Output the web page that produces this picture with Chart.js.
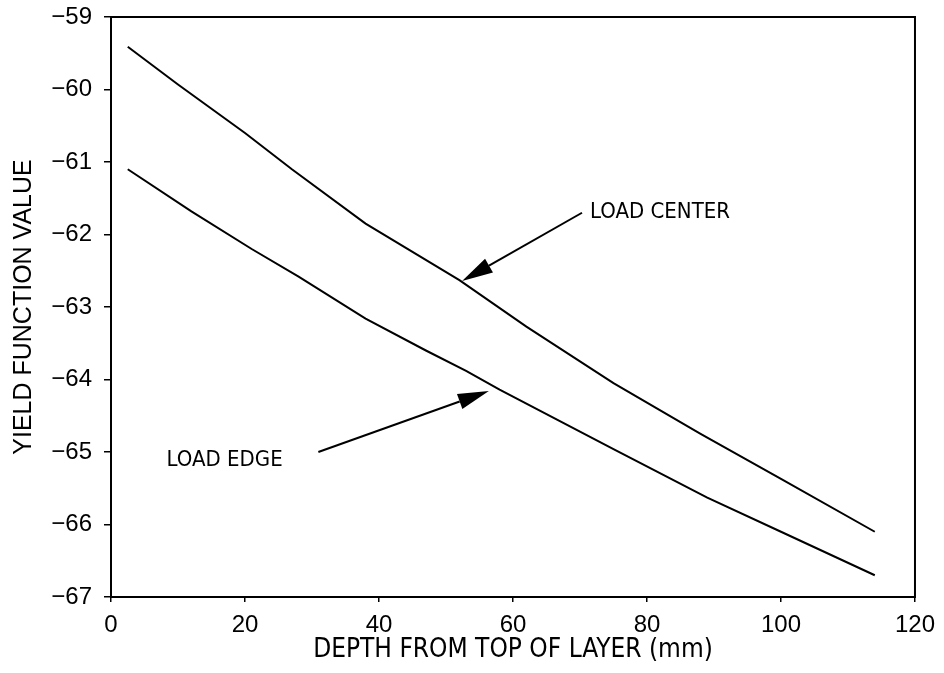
<!DOCTYPE html>
<html>
<head>
<meta charset="utf-8">
<script src="https://cdn.jsdelivr.net/npm/chart.js@4"></script>
<style>
  html, body { margin: 0; padding: 0; background: #fff; }
  #wrap { width: 944px; height: 673px; }
</style>
</head>
<body>
<div id="wrap"><canvas id="c" width="944" height="673"></canvas></div>
<script>
// ---- data ----
const depthCenter = [2.5, 10, 20, 27, 38, 52, 62, 75, 88, 100, 114];
const yieldCenter = [-59.41, -59.93, -60.6, -61.1, -61.85, -62.63, -63.27, -64.05, -64.75, -65.37, -66.1];
const depthEdge = [2.5, 12, 21, 28, 38, 47, 53, 58, 75, 89, 100, 114];
const yieldEdge = [-61.1, -61.68, -62.2, -62.58, -63.16, -63.6, -63.88, -64.14, -64.96, -65.63, -66.1, -66.7];
const xTicks = [0, 20, 40, 60, 80, 100, 120];
const yTicks = [-59, -60, -61, -62, -63, -64, -65, -66, -67];
const xTitle = 'DEPTH FROM TOP OF LAYER (mm)';
const yTitle = 'YIELD FUNCTION VALUE';
// annotations (data units)
const noteLabels = ['LOAD CENTER', 'LOAD EDGE'];
const noteTextX = [71.5, 8.3];
const noteTextY = [-61.69, -65.11];
const arrowTailX = [70.3, 30.95];
const arrowTailY = [-61.70, -65.0];
const arrowTipX = [52.4, 56.4];
const arrowTipY = [-62.64, -64.16];

const toXY = (xs, ys) => xs.map((x, i) => ({x: x, y: ys[i]}));
const fmt = v => (v < 0 ? '\u2212' + Math.abs(v) : String(v));

const frame = {
  id: 'frame',
  afterDraw(chart) {
    const {ctx, chartArea: a, scales: {x, y}} = chart;
    ctx.save();
    ctx.strokeStyle = '#000';
    ctx.lineWidth = 2;
    ctx.strokeRect(a.left, a.top, a.right - a.left, a.bottom - a.top);
    // annotations
    ctx.fillStyle = '#000';
    ctx.font = '22px "DejaVu Sans Condensed", "Liberation Sans Narrow", sans-serif';
    ctx.textBaseline = 'middle';
    ctx.textAlign = 'left';
    noteLabels.forEach((t, i) => {
      ctx.fillText(t, x.getPixelForValue(noteTextX[i]), y.getPixelForValue(noteTextY[i]));
      const x0 = x.getPixelForValue(arrowTailX[i]), y0 = y.getPixelForValue(arrowTailY[i]);
      const x1 = x.getPixelForValue(arrowTipX[i]), y1 = y.getPixelForValue(arrowTipY[i]);
      const ang = Math.atan2(y1 - y0, x1 - x0);
      const L = 31, W = 8;
      const bx = x1 - L * Math.cos(ang), by = y1 - L * Math.sin(ang);
      ctx.lineWidth = 2;
      ctx.beginPath(); ctx.moveTo(x0, y0); ctx.lineTo(bx, by); ctx.stroke();
      ctx.beginPath();
      ctx.moveTo(x1, y1);
      ctx.lineTo(bx + W * Math.sin(ang), by - W * Math.cos(ang));
      ctx.lineTo(bx - W * Math.sin(ang), by + W * Math.cos(ang));
      ctx.closePath();
      ctx.fill();
    });
    ctx.restore();
  }
};

new Chart(document.getElementById('c'), {
  type: 'line',
  data: {
    datasets: [
      { label: 'LOAD CENTER', data: toXY(depthCenter, yieldCenter), borderColor: '#000', borderWidth: 2, pointRadius: 0, tension: 0, fill: false },
      { label: 'LOAD EDGE', data: toXY(depthEdge, yieldEdge), borderColor: '#000', borderWidth: 2, pointRadius: 0, tension: 0, fill: false }
    ]
  },
  options: {
    responsive: false,
    animation: false,
    layout: { padding: { left: 0, top: 17, right: 23, bottom: 0 } },
    plugins: { legend: { display: false }, tooltip: { enabled: false } },
    scales: {
      x: {
        type: 'linear', min: 0, max: 120,
        afterBuildTicks: s => { s.ticks = xTicks.map(v => ({value: v})); },
        afterFit: s => { s.height = 76; },
        border: { display: true, color: '#000', width: 2 },
        grid: { display: true, drawOnChartArea: false, drawTicks: true, tickLength: 5, color: '#000', lineWidth: 1.5 },
        ticks: { color: '#000', padding: 9, maxRotation: 0, font: { family: 'Liberation Sans', size: 24 }, callback: v => fmt(v) },
        title: { display: true, text: xTitle, color: '#000', font: { family: '"DejaVu Sans Condensed", sans-serif', size: 26 }, padding: { top: 0, bottom: 7 } }
      },
      y: {
        type: 'linear', min: -67, max: -59,
        afterBuildTicks: s => { s.ticks = yTicks.map(v => ({value: v})); },
        afterFit: s => { s.width = 111; s.paddingTop = 0; s.paddingBottom = 0; },
        border: { display: true, color: '#000', width: 2 },
        grid: { display: true, drawOnChartArea: false, drawTicks: true, tickLength: 7, color: '#000', lineWidth: 1.5 },
        ticks: { color: '#000', padding: 12, font: { family: 'Liberation Sans', size: 24 }, callback: v => fmt(v) },
        title: { display: true, text: yTitle, color: '#000', font: { family: 'Liberation Sans', size: 25 }, padding: { top: 9, bottom: 0 } }
      }
    }
  },
  plugins: [frame]
});
</script>
</body>
</html>
